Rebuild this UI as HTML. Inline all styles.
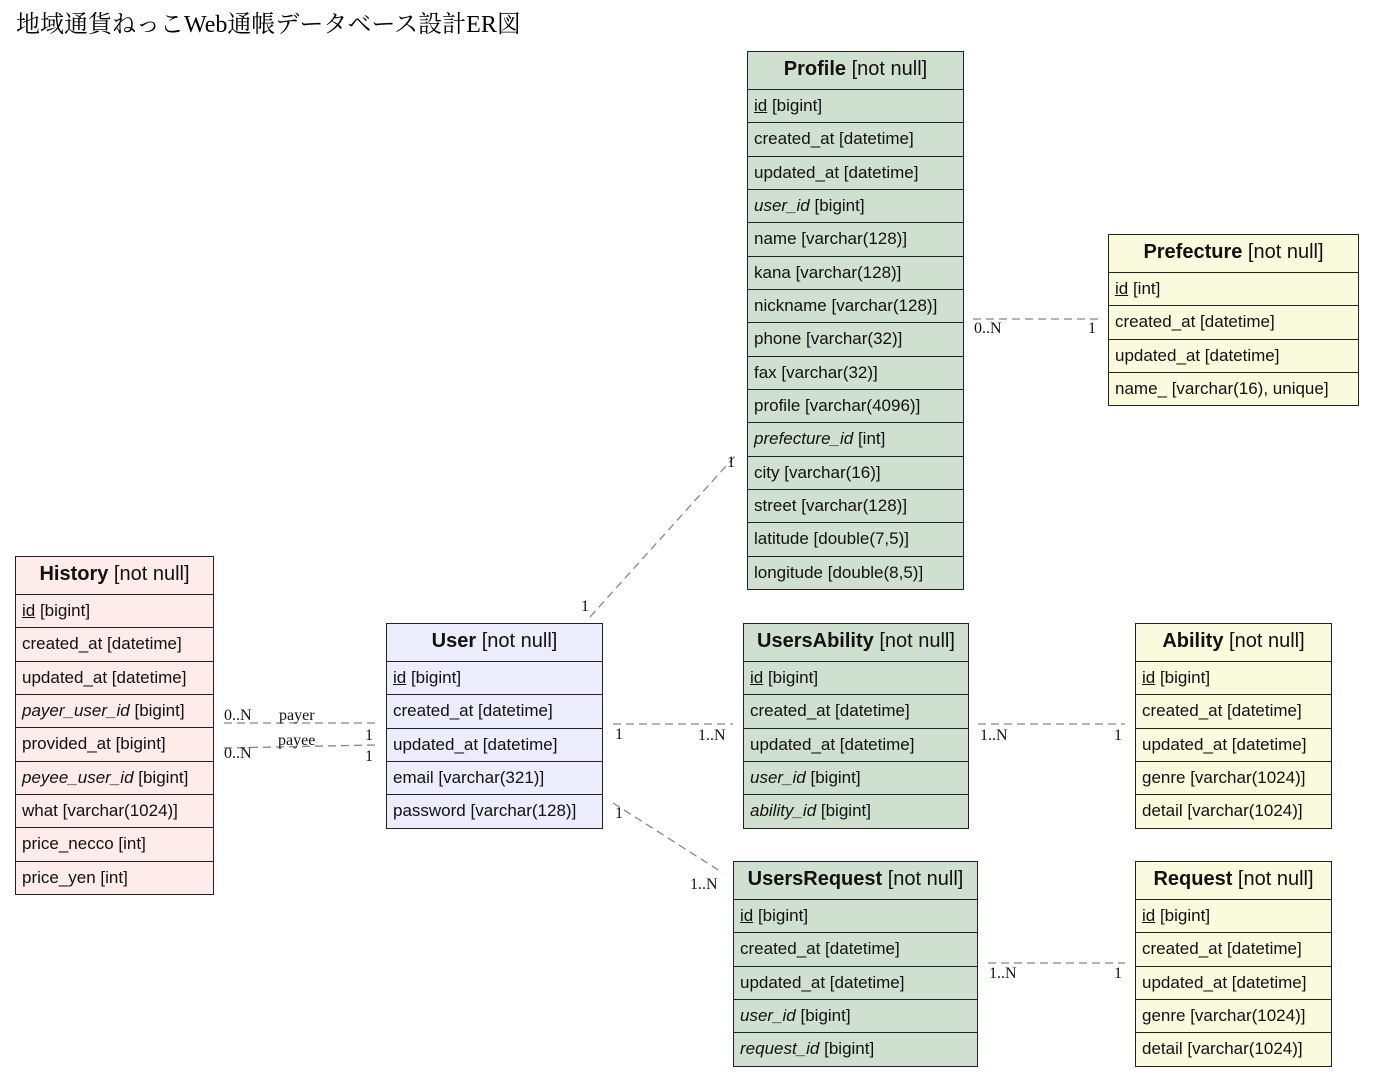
<!DOCTYPE html>
<html><head><meta charset="utf-8"><style>
body{margin:0;width:1373px;height:1076px;background:#fff;position:relative;overflow:hidden;font-family:"Liberation Sans",sans-serif;}
.t{position:absolute;border:1.5px solid #222;box-sizing:border-box;}
.t div{box-sizing:border-box;border-top:1.5px solid #222;height:33.33px;line-height:32px;font-size:17px;padding-left:6px;white-space:nowrap;color:#111;}
.t div.h{border-top:none;height:37px;line-height:34px;font-size:20px;text-align:center;padding-left:0;}
.g{background:#d0e0d0}.y{background:#fafadc}.p{background:#fdecea}.b{background:#ececfc}
i{font-style:italic}
.title{position:absolute;left:16px;top:4px;font-family:"Liberation Serif","Noto Serif CJK SC",serif;font-size:24px;}
svg{position:absolute;left:0;top:0}
svg text{font-family:"Liberation Serif",serif;font-size:16px;fill:#111}
</style></head><body>
<div class="title">地域通貨ねっこWeb通帳データベース設計ER図</div>
<svg width="1373" height="1076">
<g stroke="#888" stroke-width="1.3" stroke-dasharray="8,5" fill="none">
<line x1="973" y1="319" x2="1098" y2="319"/>
<line x1="590" y1="617" x2="736" y2="455"/>
<line x1="224" y1="723" x2="376" y2="723"/>
<line x1="224" y1="748" x2="376" y2="745"/>
<line x1="613" y1="724" x2="733" y2="724"/>
<line x1="978" y1="724" x2="1125" y2="724"/>
<line x1="613" y1="803" x2="723" y2="873"/>
<line x1="988" y1="963" x2="1125" y2="963"/>
</g>
<text x="974" y="333">0..N</text><text x="1088" y="333">1</text>
<text x="581" y="611">1</text><text x="727" y="467">1</text>
<text x="224" y="720">0..N</text><text x="279" y="720">payer</text>
<text x="224" y="758">0..N</text><text x="278" y="745">payee</text>
<text x="365" y="740">1</text><text x="365" y="761">1</text>
<text x="615" y="739">1</text><text x="698" y="740">1..N</text>
<text x="980" y="740">1..N</text><text x="1114" y="740">1</text>
<text x="615" y="818">1</text><text x="690" y="889">1..N</text>
<text x="989" y="978">1..N</text><text x="1114" y="978">1</text>
</svg>

<div class="t g" style="left:747px;top:51px;width:217px">
<div class="h"><b>Profile</b> [not null]</div>
<div><u>id</u> [bigint]</div><div>created_at [datetime]</div><div>updated_at [datetime]</div>
<div><i>user_id</i> [bigint]</div><div>name [varchar(128)]</div><div>kana [varchar(128)]</div>
<div>nickname [varchar(128)]</div><div>phone [varchar(32)]</div><div>fax [varchar(32)]</div>
<div>profile [varchar(4096)]</div><div><i>prefecture_id</i> [int]</div><div>city [varchar(16)]</div>
<div>street [varchar(128)]</div><div>latitude [double(7,5)]</div><div>longitude [double(8,5)]</div>
</div>

<div class="t y" style="left:1108px;top:234px;width:251px">
<div class="h"><b>Prefecture</b> [not null]</div>
<div><u>id</u> [int]</div><div>created_at [datetime]</div><div>updated_at [datetime]</div><div>name_ [varchar(16), unique]</div>
</div>

<div class="t p" style="left:15px;top:556px;width:199px">
<div class="h"><b>History</b> [not null]</div>
<div><u>id</u> [bigint]</div><div>created_at [datetime]</div><div>updated_at [datetime]</div>
<div><i>payer_user_id</i> [bigint]</div><div>provided_at [bigint]</div><div><i>peyee_user_id</i> [bigint]</div>
<div>what [varchar(1024)]</div><div>price_necco [int]</div><div>price_yen [int]</div>
</div>

<div class="t b" style="left:386px;top:623px;width:217px">
<div class="h"><b>User</b> [not null]</div>
<div><u>id</u> [bigint]</div><div>created_at [datetime]</div><div>updated_at [datetime]</div>
<div>email [varchar(321)]</div><div>password [varchar(128)]</div>
</div>

<div class="t g" style="left:743px;top:623px;width:226px">
<div class="h"><b>UsersAbility</b> [not null]</div>
<div><u>id</u> [bigint]</div><div>created_at [datetime]</div><div>updated_at [datetime]</div>
<div><i>user_id</i> [bigint]</div><div><i>ability_id</i> [bigint]</div>
</div>

<div class="t y" style="left:1135px;top:623px;width:197px">
<div class="h"><b>Ability</b> [not null]</div>
<div><u>id</u> [bigint]</div><div>created_at [datetime]</div><div>updated_at [datetime]</div>
<div>genre [varchar(1024)]</div><div>detail [varchar(1024)]</div>
</div>

<div class="t g" style="left:733px;top:861px;width:245px">
<div class="h"><b>UsersRequest</b> [not null]</div>
<div><u>id</u> [bigint]</div><div>created_at [datetime]</div><div>updated_at [datetime]</div>
<div><i>user_id</i> [bigint]</div><div><i>request_id</i> [bigint]</div>
</div>

<div class="t y" style="left:1135px;top:861px;width:197px">
<div class="h"><b>Request</b> [not null]</div>
<div><u>id</u> [bigint]</div><div>created_at [datetime]</div><div>updated_at [datetime]</div>
<div>genre [varchar(1024)]</div><div>detail [varchar(1024)]</div>
</div>
</body></html>
